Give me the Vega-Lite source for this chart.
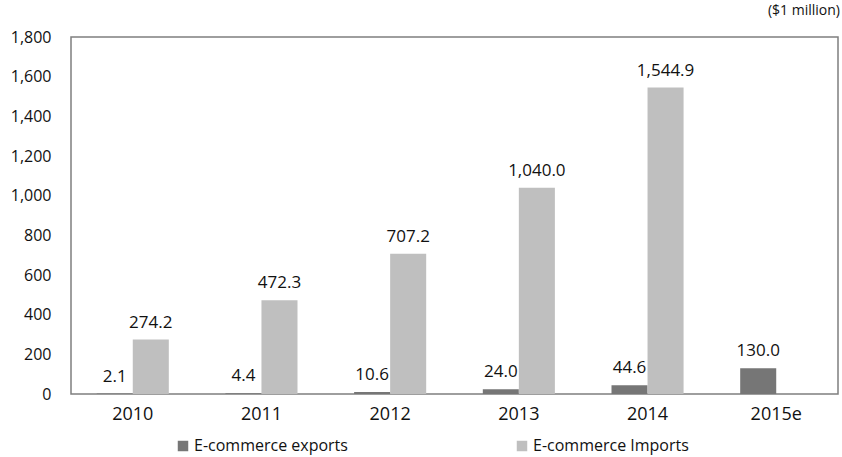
{
  "$schema": "https://vega.github.io/schema/vega-lite/v6.json",
  "width": 767,
  "height": 357,
  "autosize": "none",
  "padding": {"left": 71, "top": 37, "right": 4, "bottom": 63},
  "background": "white",
  "config": {
    "font": "Open Sans",
    "view": {"stroke": "#7f7f7f", "strokeWidth": 1.5}
  },
  "title": {"text": "($1 million)", "anchor": "end", "fontSize": 14, "fontWeight": "normal", "color": "#111", "offset": 11, "dx": 2},
  "data": {
    "values": [
      {"year": "2010", "series": "E-commerce exports", "value": 2.1},
      {"year": "2010", "series": "E-commerce Imports", "value": 274.2},
      {"year": "2011", "series": "E-commerce exports", "value": 4.4},
      {"year": "2011", "series": "E-commerce Imports", "value": 472.3},
      {"year": "2012", "series": "E-commerce exports", "value": 10.6},
      {"year": "2012", "series": "E-commerce Imports", "value": 707.2},
      {"year": "2013", "series": "E-commerce exports", "value": 24.0},
      {"year": "2013", "series": "E-commerce Imports", "value": 1040.0},
      {"year": "2014", "series": "E-commerce exports", "value": 44.6},
      {"year": "2014", "series": "E-commerce Imports", "value": 1544.9},
      {"year": "2015e", "series": "E-commerce exports", "value": 130.0}
    ]
  },
  "encoding": {
    "x": {
      "field": "year", "type": "nominal", "sort": null,
      "scale": {"paddingInner": 0.44},
      "axis": {"title": null, "labelAngle": 0, "ticks": false, "domain": false, "labelFontSize": 18, "labelColor": "#111", "labelPadding": 11}
    },
    "xOffset": {"field": "series", "type": "nominal", "sort": ["E-commerce exports", "E-commerce Imports"]},
    "y": {
      "field": "value", "type": "quantitative",
      "scale": {"domain": [0, 1800], "nice": false},
      "axis": {"title": null, "values": [0,200,400,600,800,1000,1200,1400,1600,1800], "format": ",d", "grid": false, "ticks": false, "domain": false, "labelFontSize": 16, "labelColor": "#111", "labelPadding": 20}
    }
  },
  "layer": [
    {
      "mark": {"type": "bar"},
      "encoding": {
        "color": {
          "field": "series", "type": "nominal",
          "sort": ["E-commerce exports", "E-commerce Imports"],
          "scale": {"domain": ["E-commerce exports", "E-commerce Imports"], "range": ["#767676", "#bfbfbf"]},
          "legend": {
            "title": null, "orient": "none", "direction": "horizontal", "columns": 2,
            "legendX": 104, "legendY": 401, "symbolType": "square", "symbolSize": 110,
            "symbolStrokeWidth": 0, "labelFontSize": 16, "labelColor": "#111", "columnPadding": 166, "labelOffset": 3
          }
        }
      }
    },
    {
      "mark": {"type": "text", "baseline": "bottom", "dy": -8, "fontSize": 17, "color": "#111"},
      "encoding": {
        "text": {"field": "value", "type": "quantitative", "format": ",.1f"}
      }
    }
  ]
}
